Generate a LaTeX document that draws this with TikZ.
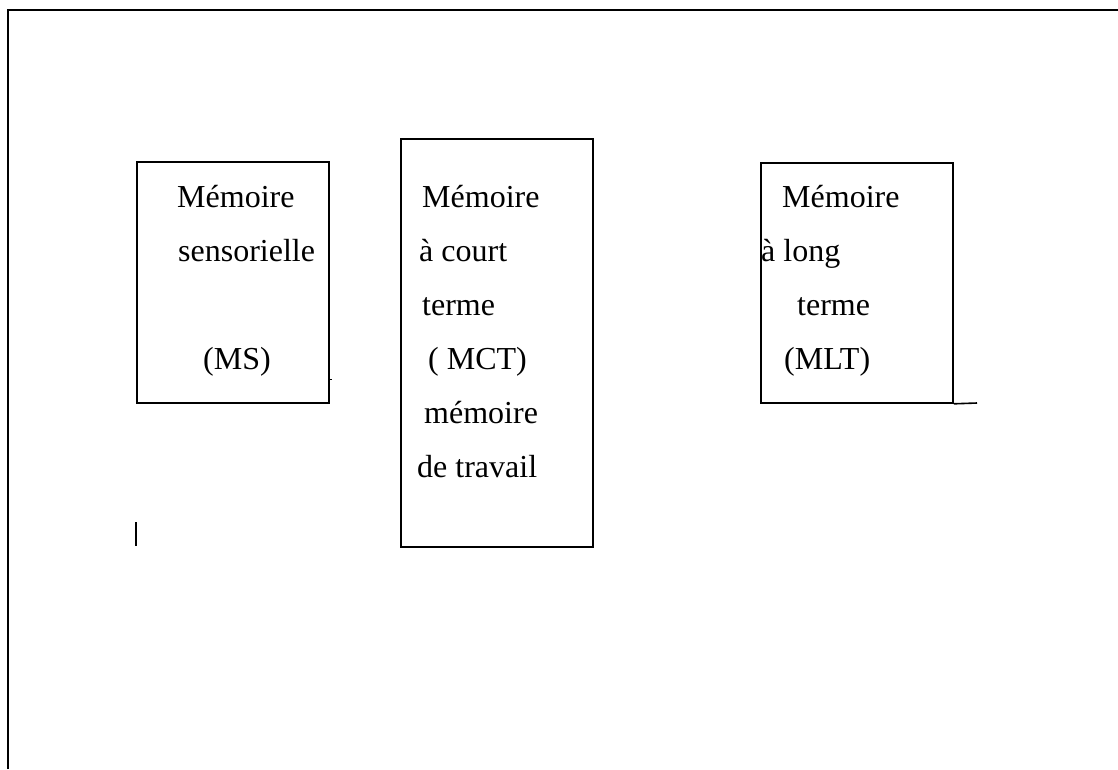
\documentclass[tikz,border=0pt]{standalone}
\usepackage{fontspec}
\setmainfont{Liberation Serif}
\begin{document}
\begin{tikzpicture}[x=1pt,y=-1pt,
  frame/.style={line width=2.2pt},
  box/.style={draw,line width=1.6pt,inner sep=0pt,minimum width=192pt},
  lbl/.style={anchor=base west,inner sep=0pt,font=\fontsize{32}{38}\selectfont}]
\useasboundingbox (0,0) rectangle (1118,769);
% outer frame (top and left only)
\coordinate (bl) at (8,769);
\coordinate (tl) at (8,10);
\coordinate (tr) at (1118,10);
\draw[frame] (bl) -- (tl) -- (tr);
% boxes
\node[box,minimum height=241pt] (ms) at (233,282.5) {};
\node[box,minimum height=408pt] (mct) at (497,343) {};
\node[box,minimum height=240pt] (mlt) at (857,283) {};
% small stray marks
\coordinate (mltx) at (977,403);
\draw[line width=1.6pt] (mlt.south east) -- (mltx);
\coordinate (mst) at (332,379);
\draw[line width=1pt] (ms.east |- mst) -- (mst);
\coordinate (m1) at (136,522);
\coordinate (m2) at (136,546);
\draw[line width=2pt] (m1) -- (m2);
% MS texts
\node[lbl] (ms1) at (177,207) {Mémoire};
\node[lbl] (ms2) at (178,261) {sensorielle};
\node[lbl] (ms3) at (203,369) {(MS)};
% MCT texts
\node[lbl] (mct1) at (422,207) {Mémoire};
\node[lbl] (mct2) at (419,261) {à court};
\node[lbl] (mct3) at (422,315) {terme};
\node[lbl] (mct4) at (428,369) {( MCT)};
\node[lbl] (mct5) at (424,423) {mémoire};
\node[lbl] (mct6) at (417,477) {de travail};
% MLT texts
\node[lbl] (mlt1) at (782,207) {Mémoire};
\node[lbl] (mlt2) at (761,261) {à long};
\node[lbl] (mlt3) at (797,315) {terme};
\node[lbl] (mlt4) at (784,369) {(MLT)};
\end{tikzpicture}
\end{document}
